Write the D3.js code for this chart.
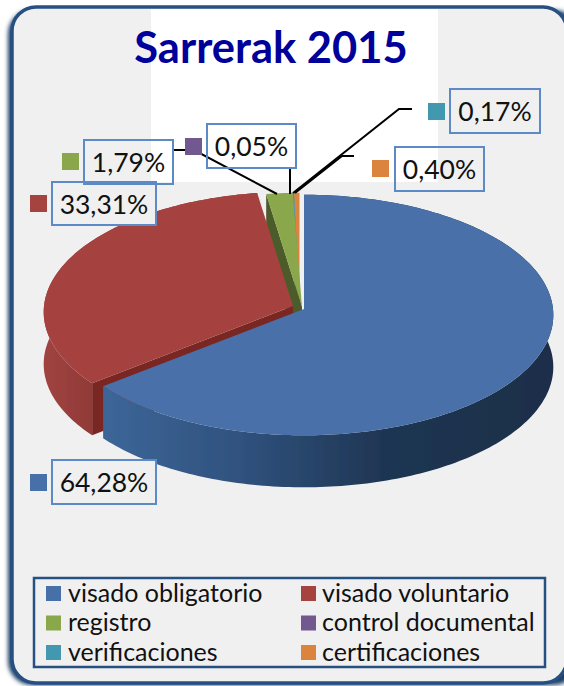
<!DOCTYPE html>
<meta charset="utf-8">
<style>
html, body { margin: 0; padding: 0; background: #fff; }
svg { display: block; }
text { font-family: Lato, "Noto Sans", sans-serif; fill: #111; }
</style>
<body>
<script src="https://d3js.org/d3.v7.min.js"></script>
<script>
var title = "Sarrerak 2015";
var categories = ["visado obligatorio", "visado voluntario", "registro", "control documental", "verificaciones", "certificaciones"];
var shares = [64.28, 33.31, 1.79, 0.05, 0.17, 0.40];
var shareLabels = ["64,28%", "33,31%", "1,79%", "0,05%", "0,17%", "0,40%"];
var colors = ["#4870a8", "#a54341", "#8aa84b", "#71588f", "#4198af", "#db843d"];

var width = 564, height = 686;

// pie geometry, the apex of each slice moves out on its own
var rx = 249, ry = 120, depth = 52, persp = 0.05;
var apex = [[304, 309], [293, 306], [302, 307], [301, 307], [300, 307], [299.5, 307]];
var wallDark = ["#2c4c75", "#7a2622", "#4c5c29", "#4a3a5e", "#2b6474", "#91572a"];

// callouts: box, swatch and leader line for each slice
var callouts = [
  {box: [52, 460, 104, 44], sw: [30, 474], fill: "#f0f0f0", line: null},
  {box: [52, 182, 104, 43], sw: [30, 195], fill: "#f0f0f0", line: null},
  {box: [84, 140, 89, 44], sw: [62, 153], fill: "none", line: [[174, 150], [194, 150], [277, 194]]},
  {box: [207, 124, 89, 44], sw: [185, 138], fill: "none", line: [[290, 168], [290, 194]]},
  {box: [450, 89, 90, 44], sw: [428, 103], fill: "none", line: [[412, 109], [399, 109], [293, 193]]},
  {box: [395, 147, 89, 44], sw: [372, 160], fill: "none", line: [[354, 156], [342, 156], [295, 193]]}
];

var svg = d3.select("body").append("svg")
    .attr("width", width)
    .attr("height", height);

var defs = svg.append("defs");

defs.append("filter").attr("id", "soft")
    .append("feGaussianBlur").attr("stdDeviation", 2);
defs.append("filter").attr("id", "edge")
    .append("feGaussianBlur").attr("stdDeviation", 0.5);

function wallGradient(id, x1, x2, stops) {
  var g = defs.append("linearGradient").attr("id", id)
      .attr("gradientUnits", "userSpaceOnUse")
      .attr("x1", x1).attr("x2", x2).attr("y1", 0).attr("y2", 0);
  stops.forEach(function(s) {
    g.append("stop").attr("offset", s[0]).attr("stop-color", s[1]);
  });
}
wallGradient("wall0", 104, 553, [[0, "#3c6698"], [0.3, "#30527e"], [0.62, "#1f3653"], [1, "#1a2e48"]]);
wallGradient("wall1", 45, 100, [[0, "#a04341"], [1, "#8e3835"]]);

// panel
svg.append("rect")
    .attr("x", 8).attr("y", 10)
    .attr("width", 570).attr("height", 675)
    .attr("rx", 24)
    .attr("fill", "#1f3f66")
    .attr("filter", "url(#soft)");
svg.append("rect")
    .attr("x", 12).attr("y", 7)
    .attr("width", 555).attr("height", 676)
    .attr("rx", 24)
    .attr("fill", "#f0f0f0")
    .attr("stroke", "#264f82")
    .attr("stroke-width", 3.5);
svg.append("rect")
    .attr("x", 151).attr("y", 9)
    .attr("width", 287).attr("height", 173)
    .attr("fill", "#fff");

svg.append("text")
    .attr("x", 271).attr("y", 63)
    .attr("text-anchor", "middle")
    .style("font-size", "43.5px")
    .style("font-weight", 700)
    .style("fill", "#00009a")
    .text(title);

var pie = d3.pie().sort(null).value(function(d) { return d; });
var arcs = pie(shares);

function project(i, a, drop) {
  var w = 1 + persp * Math.cos(a);
  return [apex[i][0] + rx * Math.sin(a) / w,
          apex[i][1] - ry * Math.cos(a) / w + (drop || 0)];
}

function rimPoints(i, d, drop) {
  var step = Math.max(1, Math.ceil((d.endAngle - d.startAngle) / 0.02));
  return d3.range(step + 1).map(function(k) {
    return project(i, d.startAngle + (d.endAngle - d.startAngle) * k / step, drop);
  });
}

var line = d3.line();

// back slices first, blue last because it sits in front
var order = [5, 4, 3, 2, 1, 0];
var pieG = svg.append("g").attr("filter", "url(#edge)");

order.forEach(function(i) {
  var d = arcs[i];
  var g = pieG.append("g");
  var rim = rimPoints(i, d, 0);
  var rimLow = rimPoints(i, d, depth);
  var a0 = [apex[i][0], apex[i][1]];
  var a1 = [apex[i][0], apex[i][1] + depth];

  // radial wall facing the gap, blue has none showing
  if (i != 0) {
    g.append("path")
        .attr("d", line([a0, rim[0], rimLow[0], a1]) + "Z")
        .attr("fill", wallDark[i]);
  }

  // outer wall
  if (i < 2) {
    g.append("path")
        .attr("d", line(rim.concat(rimLow.slice().reverse())) + "Z")
        .attr("fill", "url(#wall" + i + ")");
  }

  // top face
  g.append("path")
      .attr("d", line([a0].concat(rim)) + "Z")
      .attr("fill", colors[i]);
});

// leader lines
svg.selectAll("path.leader")
    .data(callouts.filter(function(c) { return c.line; }))
    .enter().append("path")
    .attr("class", "leader")
    .attr("d", function(c) { return line(c.line); })
    .attr("fill", "none")
    .attr("stroke", "#000")
    .attr("stroke-width", 2);

// label boxes
var labels = svg.selectAll("g.callout")
    .data(callouts)
    .enter().append("g")
    .attr("class", "callout");

labels.append("rect")
    .attr("x", function(c) { return c.box[0]; })
    .attr("y", function(c) { return c.box[1]; })
    .attr("width", function(c) { return c.box[2]; })
    .attr("height", function(c) { return c.box[3]; })
    .attr("fill", function(c) { return c.fill; })
    .attr("stroke", "#5b8ac6")
    .attr("stroke-width", 2);

labels.append("rect")
    .attr("x", function(c) { return c.sw[0]; })
    .attr("y", function(c) { return c.sw[1]; })
    .attr("width", 17)
    .attr("height", 17)
    .attr("fill", function(c, i) { return colors[i]; });

labels.append("text")
    .attr("x", function(c) { return c.box[0] + c.box[2] / 2; })
    .attr("y", function(c) { return c.box[1] + 32; })
    .attr("text-anchor", "middle")
    .style("font-size", "26.5px")
    .text(function(c, i) { return shareLabels[i]; });

// legend
svg.append("rect")
    .attr("x", 34).attr("y", 578)
    .attr("width", 511).attr("height", 89)
    .attr("fill", "none")
    .attr("stroke", "#264f82")
    .attr("stroke-width", 2.5);

var legendX = d3.scaleOrdinal().domain([0, 1]).range([46, 301]);
var legendTextX = d3.scaleOrdinal().domain([0, 1]).range([68, 322]);
var legendY = d3.scalePoint().domain([0, 1, 2]).range([593.5, 652.5]);

var legend = svg.selectAll("g.legend")
    .data(categories)
    .enter().append("g")
    .attr("class", "legend");

legend.append("rect")
    .attr("x", function(d, i) { return legendX(i % 2); })
    .attr("y", function(d, i) { return legendY(Math.floor(i / 2)) - 7.5; })
    .attr("width", 15)
    .attr("height", 15)
    .attr("fill", function(d, i) { return colors[i]; });

legend.append("text")
    .attr("x", function(d, i) { return legendTextX(i % 2); })
    .attr("y", function(d, i) { return legendY(Math.floor(i / 2)) + 8; })
    .style("font-size", "25px")
    .text(function(d) { return d; });
</script>
</body>
